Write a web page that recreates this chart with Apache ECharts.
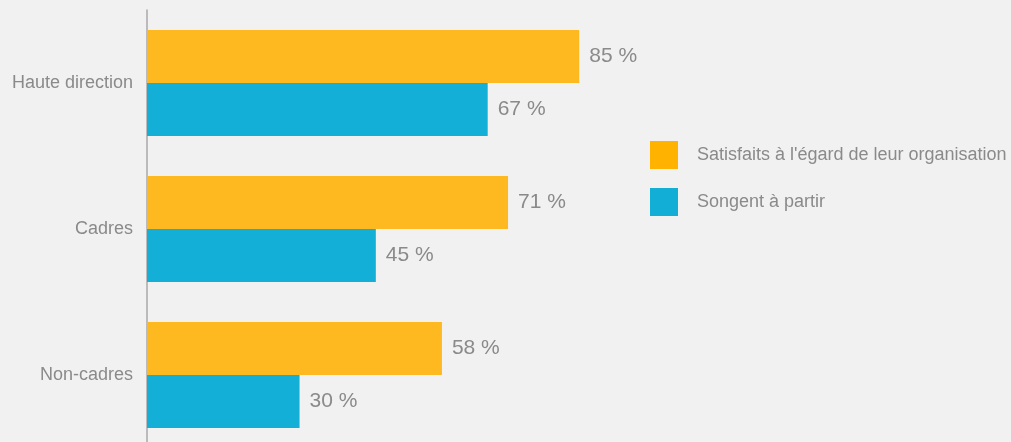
<!DOCTYPE html>
<html>
<head>
<meta charset="utf-8">
<script src="https://cdn.jsdelivr.net/npm/echarts@6/dist/echarts.min.js"></script>
<style>
  html, body { margin: 0; padding: 0; background: #f1f1f1; overflow: hidden; }
  #chart { width: 1011px; height: 448px; }
</style>
</head>
<body>
<div id="chart"></div>
<script>
// Employee groups, top to bottom
const categories = ['Haute direction', 'Cadres', 'Non-cadres'];
// Share (%) satisfied with their organisation
const satisfaits = [85, 71, 58];
// Share (%) considering leaving
const partir = [67, 45, 30];
const seriesNames = ["Satisfaits à l'égard de leur organisation", 'Songent à partir'];

const textGray = '#8a8a8a';
const font = '"Liberation Sans", Arial, sans-serif';

const chart = echarts.init(document.getElementById('chart'));
chart.setOption({
  backgroundColor: '#f1f1f1',
  animation: false,
  grid: { left: 147, top: 10, right: 355.5, bottom: 0, containLabel: false },
  xAxis: {
    type: 'value', min: 0, max: 100, show: false
  },
  yAxis: {
    type: 'category', data: categories, inverse: true,
    axisLine: { show: true, lineStyle: { color: '#a8a8a8', width: 1.5 } },
    axisTick: { show: false },
    axisLabel: { color: textGray, fontSize: 18, fontFamily: font, margin: 14 }
  },
  legend: {
    orient: 'vertical', left: 645, top: 136,
    icon: 'rect', itemWidth: 28, itemHeight: 28, itemGap: 19,
    textStyle: { color: textGray, fontSize: 18, fontFamily: font, padding: [0, 0, 0, 14] },
    data: [
      { name: seriesNames[0], itemStyle: { color: '#ffb300' } },
      { name: seriesNames[1], itemStyle: { color: '#12aed6' } }
    ]
  },
  series: [
    {
      name: seriesNames[0], type: 'bar', data: satisfaits,
      barGap: '0%', barWidth: 53,
      itemStyle: { color: '#fdb91f' },
      label: { show: true, position: 'right', distance: 10, formatter: '{c} %',
               color: textGray, fontSize: 21, fontFamily: font }
    },
    {
      name: seriesNames[1], type: 'bar', data: partir, barWidth: 53,
      itemStyle: { color: '#14afd7' },
      label: { show: true, position: 'right', distance: 10, formatter: '{c} %',
               color: textGray, fontSize: 21, fontFamily: font }
    }
  ]
});
</script>
</body>
</html>
